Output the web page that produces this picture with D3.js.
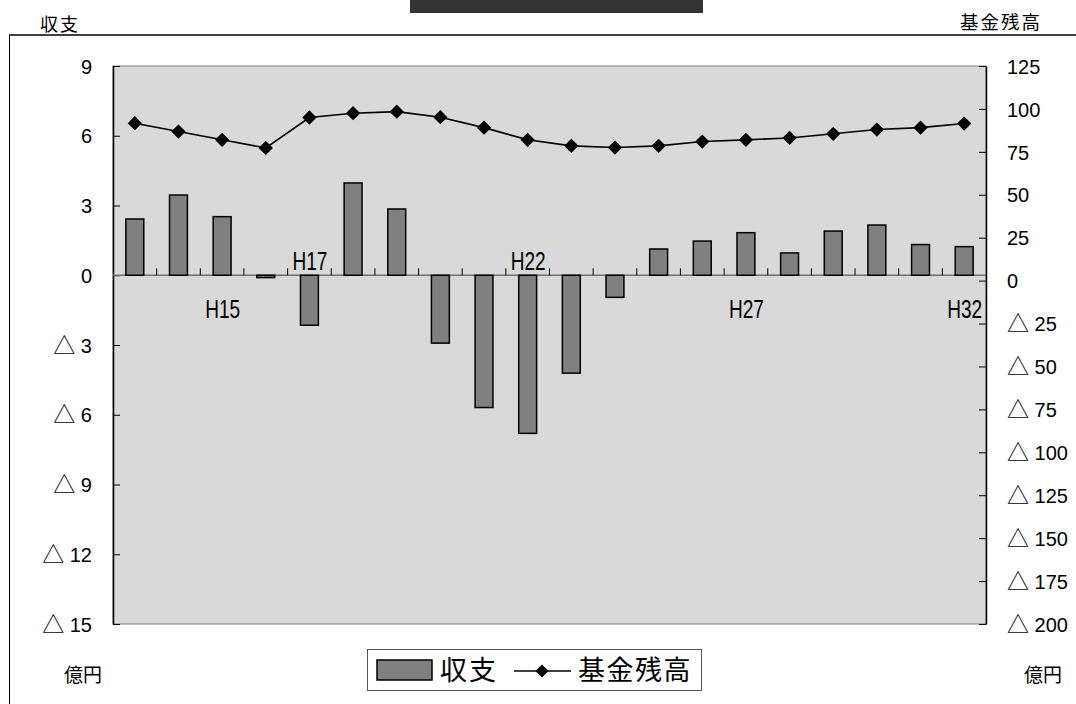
<!DOCTYPE html>
<html>
<head>
<meta charset="utf-8">
<script src="https://cdn.jsdelivr.net/npm/d3@7"></script>
<style>
  body { margin: 0; background: #fff; }
  svg { display: block; }
</style>
</head>
<body>
<div id="chart-area"></div>
<script>
// years H13 .. H32
const years = ["H13","H14","H15","H16","H17","H18","H19","H20","H21","H22",
               "H23","H24","H25","H26","H27","H28","H29","H30","H31","H32"];
// 収支 (億円)
const balance = [2.42, 3.45, 2.52, -0.1, -2.15, 3.97, 2.85, -2.92, -5.69, -6.8,
                 -4.21, -0.95, 1.13, 1.47, 1.83, 0.96, 1.9, 2.16, 1.32, 1.23];
// 基金残高 (億円)
const fund = [91.7, 86.8, 82, 77.3, 95, 97.5, 98.4, 95.2, 89.1, 82,
              78.5, 77.5, 78.5, 81, 82, 83.1, 85.5, 88, 89.1, 91.5];
// labelled categories on the zero line
const shownYears = ["H15","H17","H22","H27","H32"];
const leftTicks = [9, 6, 3, 0, -3, -6, -9, -12, -15];
const rightTicks = [125, 100, 75, 50, 25, 0, -25, -50, -75, -100, -125, -150, -175, -200];

const width = 1076;
const height = 704;
const plot = {left: 113, top: 66, right: 986, bottom: 624};

const numFont = '"Liberation Sans", Arial, sans-serif';
const jpFont = '"Noto Sans CJK JP", sans-serif';
const catFont = '"Liberation Sans", sans-serif';

const svg = d3.select("#chart-area")
    .append("svg")
    .attr("width", width)
    .attr("height", height);

// dark title block at the very top
svg.append("rect")
    .attr("x", 410).attr("y", 0)
    .attr("width", 293).attr("height", 13)
    .attr("fill", "#333");

// outer frame: top rule and left edge
svg.append("line")
    .attr("x1", 9).attr("x2", width)
    .attr("y1", 35).attr("y2", 35)
    .attr("stroke", "#404040").attr("stroke-width", 2);
svg.append("line")
    .attr("x1", 9.5).attr("x2", 9.5)
    .attr("y1", 35).attr("y2", height)
    .attr("stroke", "#000").attr("stroke-width", 1);

// unit titles
svg.append("text").attr("x", 40).attr("y", 31)
    .attr("font-family", jpFont).attr("font-size", 18)
    .attr("letter-spacing", 2)
    .text("収支");
svg.append("text").attr("x", 1042).attr("y", 29)
    .attr("text-anchor", "end")
    .attr("font-family", jpFont).attr("font-size", 18.5)
    .attr("letter-spacing", 2)
    .text("基金残高");
svg.append("text").attr("x", 83).attr("y", 682)
    .attr("text-anchor", "middle")
    .attr("font-family", jpFont).attr("font-size", 19)
    .text("億円");
svg.append("text").attr("x", 1043).attr("y", 682)
    .attr("text-anchor", "middle")
    .attr("font-family", jpFont).attr("font-size", 19)
    .text("億円");

// scales
const xScale = d3.scaleBand()
    .domain(years)
    .range([plot.left, plot.right])
    .paddingInner(0.59)
    .paddingOuter(0.295);

const xBand = d3.scaleBand()
    .domain(years)
    .range([plot.left, plot.right]);

const yLeft = d3.scaleLinear()
    .domain([-15, 9])
    .range([plot.bottom, plot.top]);

const yRight = d3.scaleLinear()
    .domain([-200, 125])
    .range([plot.bottom, plot.top]);

// plot background
svg.append("rect")
    .attr("x", plot.left).attr("y", plot.top)
    .attr("width", plot.right - plot.left)
    .attr("height", plot.bottom - plot.top)
    .attr("fill", "#d9d9d9")
    .attr("stroke", "#808080")
    .attr("stroke-width", 1);

// negative values are written with a leading triangle
function styleTicks(sel, dx, anchor) {
    sel.selectAll(".tick text").each(function(d) {
        const t = d3.select(this).text("")
            .attr("x", dx)
            .attr("dy", "0.36em")
            .attr("text-anchor", anchor)
            .attr("font-family", numFont)
            .attr("font-size", 20)
            .attr("fill", "#000");
        if (d < 0) {
            t.append("tspan")
                .attr("font-family", jpFont)
                .attr("font-size", 22)
                .text("△");
            t.append("tspan").text(" " + (-d));
        } else {
            t.append("tspan").text(d);
        }
    });
}

// left axis
const leftAxis = svg.append("g")
    .attr("transform", `translate(${plot.left},0)`)
    .call(d3.axisLeft(yLeft).tickValues(leftTicks).tickSizeInner(-7).tickSizeOuter(0));
leftAxis.select(".domain").attr("stroke", "#000").attr("stroke-width", 1.5);
leftAxis.selectAll(".tick line").attr("stroke", "#000");
styleTicks(leftAxis, -21, "end");

// right axis
const rightAxis = svg.append("g")
    .attr("transform", `translate(${plot.right},0)`)
    .call(d3.axisRight(yRight).tickValues(rightTicks).tickSizeInner(-7).tickSizeOuter(0));
rightAxis.select(".domain").attr("stroke", "#000").attr("stroke-width", 1.5);
rightAxis.selectAll(".tick line").attr("stroke", "#000");
styleTicks(rightAxis, 21, "start");

// zero line with inside ticks at category boundaries
const zeroY = yLeft(0);
svg.append("line")
    .attr("x1", plot.left).attr("x2", plot.right)
    .attr("y1", zeroY).attr("y2", zeroY)
    .attr("stroke", "#6e6e6e").attr("stroke-width", 1.5);
svg.selectAll(".cat-tick")
    .data(years.slice(1))
    .enter().append("line")
    .attr("class", "cat-tick")
    .attr("x1", d => xBand(d)).attr("x2", d => xBand(d))
    .attr("y1", zeroY).attr("y2", zeroY - 7)
    .attr("stroke", "#000").attr("stroke-width", 1);

// bars
svg.selectAll(".bar")
    .data(years)
    .enter().append("rect")
    .attr("class", "bar")
    .attr("x", d => xScale(d))
    .attr("width", xScale.bandwidth())
    .attr("y", (d, i) => yLeft(Math.max(0, balance[i])))
    .attr("height", (d, i) => Math.abs(yLeft(balance[i]) - yLeft(0)))
    .attr("fill", "#808080")
    .attr("stroke", "#000")
    .attr("stroke-width", 1.5);

// category labels, placed on the side away from the bar (narrow glyphs)
svg.selectAll(".cat-label")
    .data(shownYears)
    .enter().append("text")
    .attr("class", "cat-label")
    .attr("x", d => xBand(d) + xBand.bandwidth() / 2 - 17)
    .attr("y", d => balance[years.indexOf(d)] < 0 ? zeroY - 5 : zeroY + 43)
    .attr("textLength", 35)
    .attr("lengthAdjust", "spacingAndGlyphs")
    .attr("font-family", catFont)
    .attr("font-size", 26)
    .attr("fill", "#000")
    .text(d => d);

// fund line
const line = d3.line()
    .x((d, i) => xBand(years[i]) + xBand.bandwidth() / 2)
    .y(d => yRight(d));

svg.append("path")
    .datum(fund)
    .attr("d", line)
    .attr("fill", "none")
    .attr("stroke", "#000")
    .attr("stroke-width", 1.6);

const diamond = d3.symbol().type(d3.symbolDiamond2).size(130);
svg.selectAll(".pt")
    .data(fund)
    .enter().append("path")
    .attr("class", "pt")
    .attr("d", diamond)
    .attr("transform", (d, i) => `translate(${xBand(years[i]) + xBand.bandwidth() / 2},${yRight(d)})`)
    .attr("fill", "#000");

// legend
const legend = svg.append("g");
legend.append("rect")
    .attr("x", 367.5).attr("y", 649.5)
    .attr("width", 334).attr("height", 41)
    .attr("fill", "#fff")
    .attr("stroke", "#555").attr("stroke-width", 1);
legend.append("rect")
    .attr("x", 377).attr("y", 660)
    .attr("width", 55).attr("height", 20)
    .attr("fill", "#808080")
    .attr("stroke", "#000").attr("stroke-width", 1.5);
legend.append("text")
    .attr("x", 440).attr("y", 680)
    .attr("font-family", jpFont).attr("font-size", 27)
    .attr("letter-spacing", 2)
    .text("収支");
legend.append("line")
    .attr("x1", 514).attr("x2", 571)
    .attr("y1", 671).attr("y2", 671)
    .attr("stroke", "#000").attr("stroke-width", 1.5);
legend.append("path")
    .attr("d", d3.symbol().type(d3.symbolDiamond2).size(110))
    .attr("transform", "translate(542,671)")
    .attr("fill", "#000");
legend.append("text")
    .attr("x", 578).attr("y", 680)
    .attr("font-family", jpFont).attr("font-size", 27)
    .attr("letter-spacing", 1.5)
    .text("基金残高");
</script>
</body>
</html>
